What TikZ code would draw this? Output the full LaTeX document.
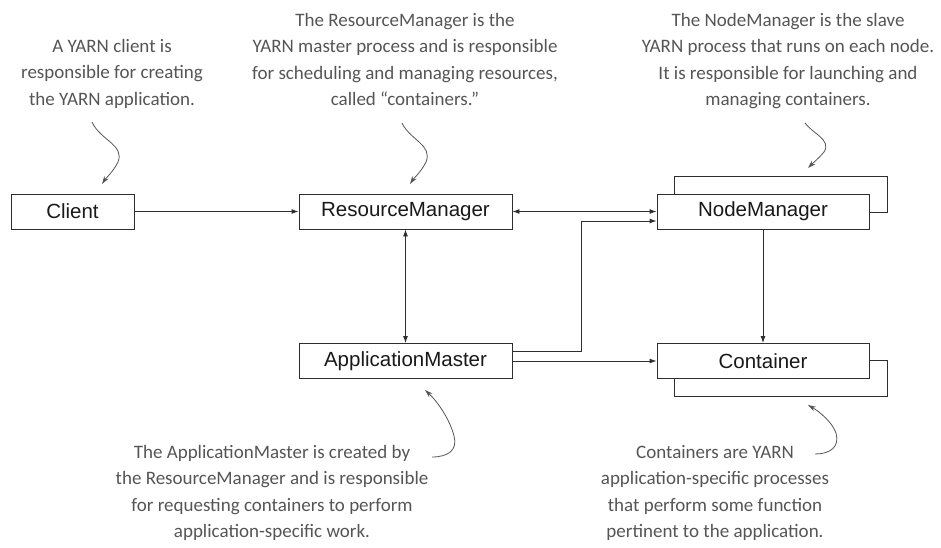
\documentclass[tikz,border=0pt]{standalone}
\usepackage{fontspec}
\setmainfont{Liberation Sans}
\newfontfamily\notefont{Carlito}
\usetikzlibrary{arrows.meta}
\definecolor{boxline}{HTML}{2E2E2E}
\definecolor{notegray}{HTML}{555555}
\tikzset{
  comp/.style={draw=boxline, line width=0.9pt, fill=white, minimum height=35pt,
    inner sep=0pt, font=\fontsize{20.5}{24}\selectfont, text=black!90},
  backbox/.style={draw=boxline, line width=0.9pt, fill=white, minimum height=36pt,
    minimum width=213pt, inner sep=0pt},
  link/.style={draw=boxline, line width=0.9pt},
  tip/.style={-{Latex[length=7pt,width=5pt]}},
  bitip/.style={{Latex[length=7pt,width=5pt]}-{Latex[length=7pt,width=5pt]}},
  note/.style={align=center, inner sep=0pt, anchor=north, text=notegray,
    font=\notefont\fontsize{19}{26.5}\selectfont},
  callout/.style={draw=notegray, line width=0.8pt, -{Stealth[length=8pt,width=5pt]}}
}
\begin{document}
\begin{tikzpicture}[x=1pt, y={(0pt,-1pt)}]
  \useasboundingbox (0,0) rectangle (941,548);

  % stacked boxes behind NodeManager and Container
  \node[backbox] (nmback) at (780.5,194) {};
  \node[backbox] (ctback) at (780.5,378) {};

  % components
  \node[comp, minimum width=123pt] (cl) at (72.5,211.5) {Client};
  \node[comp, minimum width=213pt] (rm) at (405.5,211.5) {ResourceManager};
  \node[comp, minimum width=212pt] (nm) at (763,211.5) {NodeManager};
  \node[comp, minimum width=213pt] (am) at (405.5,361) {ApplicationMaster};
  \node[comp, minimum width=212pt] (ct) at (763,361) {Container};

  % connections
  \draw[link, tip] (cl.east) -- (rm.west);
  \draw[link, bitip] (rm.east) -- (nm.west);
  \draw[link, bitip] (rm.south) -- (am.north);
  \draw[link, tip] ([yshift=10pt]am.east) -- ++(69,0) |- ([yshift=-9.5pt]nm.west);
  \draw[link, tip] (am.east) -- (ct.west);
  \draw[link, tip] (nm.south) -- (ct.north);

  % annotations
  \node[note] (n1) at (112,39) {A YARN client is\\responsible for creating\\the YARN application.};
  \node[note] (n2) at (405,13) {The ResourceManager is the\\YARN master process and is responsible\\for scheduling and managing resources,\\called “containers.”};
  \node[note] (n3) at (788,13) {The NodeManager is the slave\\YARN process that runs on each node.\\It is responsible for launching and\\managing containers.};
  \node[note] (n4) at (272,445) {The ApplicationMaster is created by\\the ResourceManager and is responsible\\for requesting containers to perform\\application-specific work.};
  \node[note] (n5) at (715,445) {Containers are YARN\\application-specific processes\\that perform some function\\pertinent to the application.};

  % callout arrows
  \draw[callout] (92,122) .. controls (100,140) and (125,145) .. (118,162)
    .. controls (113,172) and (106,178) .. (102,184);
  \draw[callout] (402,123) .. controls (410,140) and (433,145) .. (426,162)
    .. controls (421,172) and (414,178) .. (410,184);
  \draw[callout] (805,123) .. controls (812,133) and (832,140) .. (824,152)
    .. controls (819,158) and (813,163) .. (808,168);
  \draw[callout] (432,457) .. controls (448,457) and (458,450) .. (454,436)
    .. controls (450,420) and (438,402) .. (425,390);
  \draw[callout] (815,454) .. controls (830,454) and (840,447) .. (836,433)
    .. controls (832,422) and (820,412) .. (808,405);
\end{tikzpicture}
\end{document}
